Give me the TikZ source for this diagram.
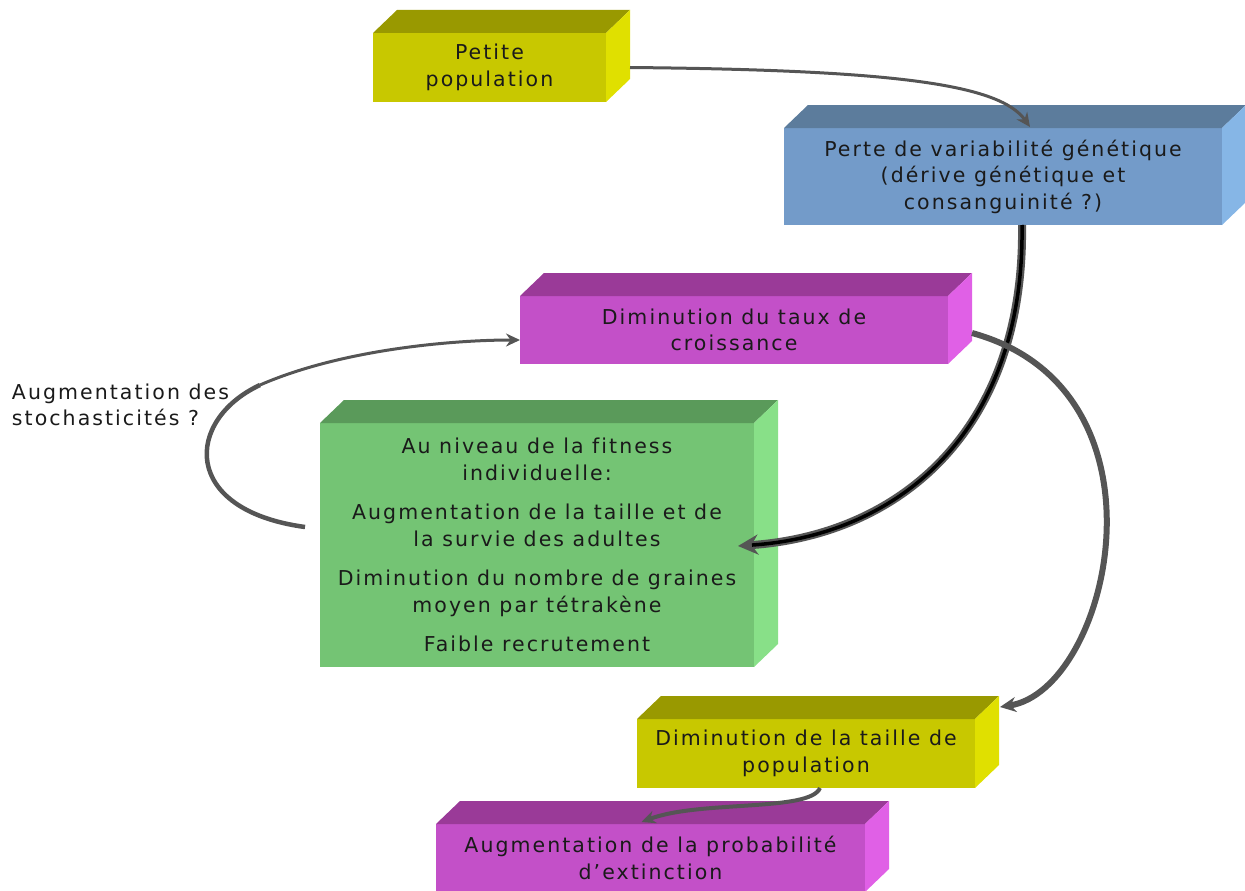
\documentclass[tikz,border=0pt]{standalone}
\usepackage{fontspec}
\setmainfont[LetterSpace=10,Ligatures={NoCommon}]{DejaVu Sans}
\usetikzlibrary{arrows.meta,calc}
\definecolor{yF}{HTML}{C8C800}\definecolor{yT}{HTML}{999900}\definecolor{yS}{HTML}{E0E000}
\definecolor{bF}{HTML}{739BC9}\definecolor{bT}{HTML}{5C7C9C}\definecolor{bS}{HTML}{86B6E6}
\definecolor{mF}{HTML}{C350C8}\definecolor{mT}{HTML}{9A3A98}\definecolor{mS}{HTML}{E060E6}
\definecolor{gF}{HTML}{74C474}\definecolor{gT}{HTML}{5A9A5A}\definecolor{gS}{HTML}{88E088}
\definecolor{txt}{HTML}{1A1A1A}
\definecolor{arrg}{HTML}{555555}
\newcommand{\cubefaces}[3]{%
  \fill[#2] (#1.north west) -- ++(24pt,23pt) -- ($(#1.north east)+(24pt,23pt)$) -- (#1.north east) -- cycle;
  \fill[#3] (#1.north east) -- ++(24pt,23pt) -- ($(#1.south east)+(24pt,23pt)$) -- (#1.south east) -- cycle;}
\begin{document}
\begin{tikzpicture}[x=1pt,y=-1pt,
  face/.style={inner sep=0pt,outer sep=0pt,align=center,text=txt,
    font=\fontsize{20.5}{26.5}\selectfont},
  conn/.style={line width=5pt,draw=arrg,-{Stealth[length=14pt,width=13pt]}},
]
\useasboundingbox (0,0) rectangle (1245,891);
% boxes
\node[face,fill=yF,minimum width=233pt,minimum height=69pt] (pp) at (489.5,67.5) {Petite\\population};
\cubefaces{pp}{yT}{yS}
\node[face,fill=bF,minimum width=438pt,minimum height=97pt] (pv) at (1003,176.5) {Perte de variabilité génétique\\(dérive génétique et\\consanguinité ?)};
\cubefaces{pv}{bT}{bS}
\node[face,fill=mF,minimum width=428pt,minimum height=68pt] (dt) at (734,330) {Diminution du taux de\\croissance};
\cubefaces{dt}{mT}{mS}
\node[face,fill=gF,minimum width=434pt,minimum height=244pt] (gr) at (537,545) {Au niveau de la fitness\\individuelle:\\[13pt]Augmentation de la taille et de\\la survie des adultes\\[13pt]Diminution du nombre de graines\\moyen par tétrakène\\[13pt]Faible recrutement};
\cubefaces{gr}{gT}{gS}
\node[face,fill=yF,minimum width=338pt,minimum height=69pt] (dp) at (806,753.5) {Diminution de la taille de\\population};
\cubefaces{dp}{yT}{yS}
\node[face,fill=mF,minimum width=429pt,minimum height=68pt] (ap) at (650.5,858) {Augmentation de la probabilité\\d’extinction};
\cubefaces{ap}{mT}{mS}
\node[face,anchor=west,align=left] (lab) at (12,405) {Augmentation des\\stochasticités ?};
% connector end points
\coordinate (a1s) at ([xshift=24pt]pp.east);
\coordinate (a1e) at ([xshift=27pt,yshift=1pt]pv.north);
\coordinate (a2s) at ([xshift=19pt]pv.south);
\coordinate (a2e) at ([xshift=-16pt,yshift=-1pt]gr.east);
\coordinate (a3s) at ([xshift=24pt,yshift=-3pt]dt.east);
\coordinate (a3e) at ([xshift=25pt,yshift=12pt]dp.north east);
\coordinate (a4s) at ([xshift=-15pt,yshift=18pt]gr.west);
\coordinate (a4m) at (260,385);
\coordinate (a4e) at ([yshift=-10pt]dt.west);
\coordinate (a5s) at ([xshift=14pt]dp.south);
\coordinate (a5e) at ([xshift=-9pt,yshift=2pt]ap.north);
% connectors
\draw[conn,line width=3pt] (a1s) .. controls (900,70) and (1000,85) .. (a1e);
\draw[conn,line width=8pt,draw=arrg,-{Stealth[length=20pt,width=20pt]}] (a2s) .. controls (1025,430) and (900,535) .. (a2e);
\draw[line width=3.5pt,draw=black,shorten >=14pt] (a2s) .. controls (1025,430) and (900,535) .. (a2e);
\draw[conn,line width=6pt,-{Stealth[length=16pt,width=15pt]}] (a3s) .. controls (1180,390) and (1110,690) .. (a3e);
\draw[line width=4.5pt,draw=arrg] (a4s) .. controls (180,510) and (185,420) .. (a4m);
\draw[conn,line width=3pt] (a4m) .. controls (340,350) and (450,340) .. (a4e);
\draw[conn,line width=4pt,-{Stealth[length=14pt,width=13pt]}] (a5s) .. controls (810,812) and (700,800) .. (a5e);
\end{tikzpicture}
\end{document}
